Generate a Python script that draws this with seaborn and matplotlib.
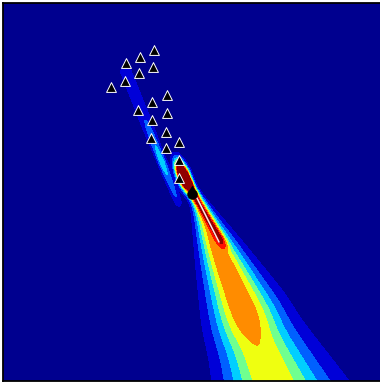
import numpy as np
import matplotlib
matplotlib.use("Agg")
import matplotlib.pyplot as plt
from matplotlib.path import Path
import pandas as pd
import seaborn as sns

# ---- data -------------------------------------------------------------
# sampled parameter locations (triangles)
tri_x = [151, 137, 123, 150, 136, 122, 108, 164, 149, 135, 164, 149, 163, 148, 176, 163, 176, 176]
tri_y = [331, 324, 318, 314, 308, 300, 294, 286, 279, 271, 268, 261, 249, 243, 239, 233, 221, 203]

# point estimate (black marker)
est_x = [189]
est_y = [187]

# estimate trajectory (light line)
path_x = [194, 216]
path_y = [183, 139]

# main lobe of the density: a fan opening from its apex
fan_apex = (183.0, 209.0)
fan_angle_deg = 22.5          # lobe direction, clockwise from straight down
fan_spread = 0.1434           # angular std (rad)
fan_base = 5.9                # far-field ridge height
fan_rise = 15.0               # rise length near the apex
fan_bump_height = 1.09
fan_bump_spread = 0.17        # angular std of the mid-range bump (rad)
fan_bump_at = 125.0
fan_bump_width = (70.0, 50.0)  # before / after the bump centre

# compact peak next to the apex
peak_center = (181.0, 204.0)
peak_height = 15.0
peak_sigma = (11.5, 4.0)      # along / across the lobe direction

# narrow ridge running down from the peak
ridge_start = (189.0, 189.0)
ridge_end = (225.0, 130.0)
ridge_t = [0, 4, 56, 70]
ridge_amp = [0.0, 3.0, 3.0, 0.0]
ridge_sigma = 2.6

# faint secondary streak above the apex
streak_start = (119.0, 319.0)
streak_end = (179.0, 169.0)
streak_t = [0, 8, 50, 75, 95, 108, 125, 150, 162]
streak_amp = [0.0, 1.35, 1.6, 2.4, 3.2, 3.7, 2.8, 1.8, 0.0]
streak_width = [6.5, 6.5, 5.5, 4.0, 3.2, 3.0, 3.0, 3.0, 3.0]

# contour bands
level_edges = [-1, 1, 2, 3, 4, 5, 6, 7, 8, 1000]
band_colors = ["#00008F", "#0000D8", "#0060FF", "#00CFFF", "#70FF8F",
               "#EFFF10", "#FF8C00", "#FF1000", "#900000"]

# ---- density surface ----------------------------------------------------
gx = np.linspace(0, 378, 700)
gy = np.linspace(0, 378, 700)
X, Y = np.meshgrid(gx, gy)

a = np.deg2rad(fan_angle_deg)
u = np.array([np.sin(a), -np.cos(a)])
v = np.array([np.cos(a), np.sin(a)])

# fan lobe
rx, ry = X - fan_apex[0], Y - fan_apex[1]
r = np.hypot(rx, ry) + 1e-9
cos_t = np.clip((rx * u[0] + ry * u[1]) / r, -1, 1)
theta = np.arccos(cos_t)
w = np.where(r < fan_bump_at, fan_bump_width[0], fan_bump_width[1])
base = fan_base * (1 - np.exp(-r / fan_rise))
bump = fan_bump_height * np.exp(-((r - fan_bump_at) / w) ** 4)
F = base * np.exp(-theta ** 2 / (2 * fan_spread ** 2)) + \
    bump * np.exp(-theta ** 2 / (2 * fan_bump_spread ** 2))

# compact peak
px_, py_ = X - peak_center[0], Y - peak_center[1]
along = px_ * u[0] + py_ * u[1]
across = px_ * v[0] + py_ * v[1]
F += peak_height * np.exp(-0.5 * ((along / peak_sigma[0]) ** 2 + (across / peak_sigma[1]) ** 2))


def segment_ridge(start, end, t_nodes, amp_nodes, width_nodes):
    d = np.array(end) - np.array(start)
    d = d / np.hypot(*d)
    n = np.array([-d[1], d[0]])
    sx, sy = X - start[0], Y - start[1]
    t = sx * d[0] + sy * d[1]
    s = sx * n[0] + sy * n[1]
    amp = np.interp(t, t_nodes, amp_nodes, left=0.0, right=0.0)
    sig = np.interp(t, t_nodes, width_nodes)
    return amp * np.exp(-s ** 2 / (2 * sig ** 2))


F += segment_ridge(ridge_start, ridge_end, ridge_t, ridge_amp, [ridge_sigma] * len(ridge_t))
F += segment_ridge(streak_start, streak_end, streak_t, streak_amp, streak_width)

# ---- figure --------------------------------------------------------------
sns.set_style("white")
plt.rcParams["font.family"] = ["DejaVu Sans"]

fig = plt.figure(figsize=(3.8, 3.82), dpi=100)
ax = fig.add_axes([3 / 380, 1 / 382, 378 / 380, 378 / 382])

ax.contourf(X, Y, F, levels=level_edges, colors=band_colors, antialiased=False)

ax.plot(path_x, path_y, color="#FFE4E4", lw=1.1, zorder=3)

tri = pd.DataFrame({"x": tri_x, "y": tri_y})
sns.scatterplot(data=tri, x="x", y="y", marker="^", s=50, color="black",
                edgecolor="white", linewidth=0.7, ax=ax, zorder=4, legend=False)

# teardrop marker for the estimate: rounded bottom, pointed top
ang = np.deg2rad(np.linspace(125, 415, 40))
verts = np.column_stack([np.cos(ang), np.sin(ang)])
verts = np.vstack([verts, [[0.0, 1.7]], verts[:1]])
drop = Path(verts, closed=True)
ax.plot(est_x, est_y, linestyle="none", marker=drop, markersize=12,
        markerfacecolor="black", markeredgecolor="black", markeredgewidth=0.4,
        zorder=5)

ax.set_xlim(0, 378)
ax.set_ylim(0, 378)
ax.set_xticks([])
ax.set_yticks([])
ax.set_xlabel("")
ax.set_ylabel("")
for sp in ax.spines.values():
    sp.set_visible(True)
    sp.set_color("black")
    sp.set_linewidth(1.3)

fig.savefig("out.png", dpi=100)
